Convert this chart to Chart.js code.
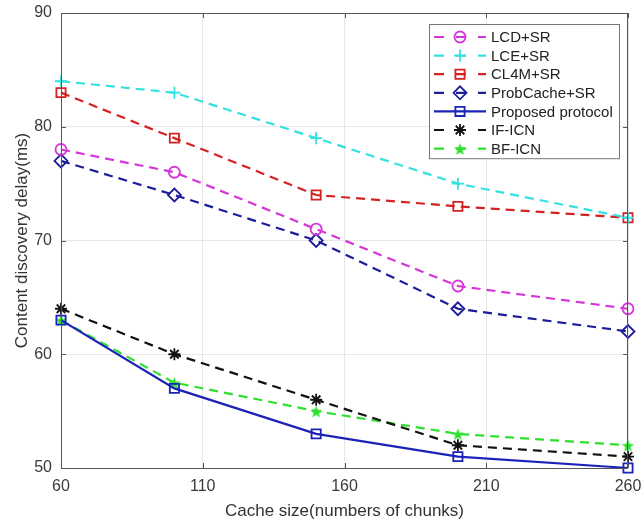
<!DOCTYPE html>
<html>
<head>
<meta charset="utf-8">
<script src="https://cdn.jsdelivr.net/npm/chart.js@4.4.0/dist/chart.umd.min.js"></script>
<style>
    html, body { margin: 0; padding: 0; background: #fff; }
</style>
</head>
<body>
<canvas id="delayChart" width="641" height="524"></canvas>
<script>
// cache size (numbers of chunks)
const cacheSizes = [60, 100, 150, 200, 260];

// content discovery delay (ms)
const lcdSr = [78, 76, 71, 66, 64];
const lceSr = [84, 83, 79, 75, 72];
const cl4mSr = [83, 79, 74, 73, 72];
const probCacheSr = [77, 74, 70, 64, 62];
const proposed = [63, 57, 53, 51, 50];
const ifIcn = [64, 60, 56, 52, 51];
const bfIcn = [63, 57.5, 55, 53, 52];

const xTicks = [60, 110, 160, 210, 260];
const yTicks = [50, 60, 70, 80, 90];

function toPoints(values) {
    return values.map((v, i) => ({ x: cacheSizes[i], y: v }));
}

// filled five point star (matlab pentagram)
function makePentagram(color, size) {
    const c = document.createElement('canvas');
    c.width = size;
    c.height = size;
    const g = c.getContext('2d');
    const r = size / 2 - 1, ri = r * 0.42;
    g.beginPath();
    for (let i = 0; i < 10; i++) {
        const a = -Math.PI / 2 + i * Math.PI / 5;
        const rr = i % 2 === 0 ? r : ri;
        g.lineTo(size / 2 + rr * Math.cos(a), size / 2 + 1 + rr * Math.sin(a));
    }
    g.closePath();
    g.fillStyle = color;
    g.fill();
    return c;
}

const greenStar = makePentagram('#2ee02e', 15);

function series(label, values, color, style, radius, dashed, fill) {
    return {
        label: label,
        data: toPoints(values),
        borderColor: color,
        backgroundColor: color,
        pointBackgroundColor: fill || 'rgba(0,0,0,0)',
        pointBorderColor: color,
        pointStyle: style,
        pointRadius: radius,
        pointHoverRadius: radius,
        pointBorderWidth: 1.8,
        borderWidth: 2.2,
        borderDash: dashed ? [9, 6] : [],
        tension: 0,
        clip: false
    };
}

const datasets = [
    series('LCD+SR', lcdSr, '#d535d8', 'circle', 5.5, true),
    series('LCE+SR', lceSr, '#35e0e0', 'cross', 6, true),
    series('CL4M+SR', cl4mSr, '#d42222', 'rect', 6.5, true),
    series('ProbCache+SR', probCacheSr, '#1c1c9c', 'rectRot', 6.5, true),
    series('Proposed protocol', proposed, '#1c22b8', 'rect', 6.5, false),
    series('IF-ICN', ifIcn, '#111111', 'star', 6, true),
    series('BF-ICN', bfIcn, '#2ee02e', greenStar, 7, true)
];

// box round the plot area, with inside ticks like matlab
const framePlugin = {
    id: 'frame',
    afterDatasetsDraw(chart) {
        const { ctx, chartArea: a, scales } = chart;
        ctx.save();
        ctx.strokeStyle = '#555';
        ctx.lineWidth = 1;
        ctx.strokeRect(a.left + 0.5, a.top + 0.5, a.right - a.left - 1, a.bottom - a.top);
        ctx.beginPath();
        yTicks.forEach(t => {
            const y = Math.round(scales.y.getPixelForValue(t)) + 0.5;
            ctx.moveTo(a.right - 5, y); ctx.lineTo(a.right, y);
            ctx.moveTo(a.left, y); ctx.lineTo(a.left + 5, y);
        });
        xTicks.forEach(t => {
            const x = Math.round(scales.x.getPixelForValue(t)) + 0.5;
            ctx.moveTo(x, a.top); ctx.lineTo(x, a.top + 5);
            ctx.moveTo(x, a.bottom); ctx.lineTo(x, a.bottom - 5);
        });
        ctx.stroke();
        ctx.restore();
    }
};

// legend drawn inside the plot, top right corner
const legendPlugin = {
    id: 'insideLegend',
    afterDraw(chart) {
        const { ctx, chartArea: a } = chart;
        const boxW = 190, rowH = 18.6;
        const boxH = chart.data.datasets.length * rowH + 4;
        const left = a.right - 9 - boxW, top = a.top + 11;
        ctx.save();
        ctx.fillStyle = '#fff';
        ctx.fillRect(left, top, boxW, boxH);
        ctx.strokeStyle = '#777';
        ctx.lineWidth = 1;
        ctx.strokeRect(left + 0.5, top + 0.5, boxW, boxH);
        ctx.font = '15px "Liberation Sans", Arial, sans-serif';
        ctx.textBaseline = 'middle';
        chart.data.datasets.forEach((ds, i) => {
            const y = top + 13 + i * rowH;
            ctx.strokeStyle = ds.borderColor;
            ctx.lineWidth = ds.borderWidth;
            ctx.setLineDash(ds.borderDash.length ? [10, 12] : []);
            ctx.beginPath();
            ctx.moveTo(left + 5, y);
            ctx.lineTo(left + 57, y);
            ctx.stroke();
            ctx.setLineDash([]);
            ctx.fillStyle = ds.pointBackgroundColor;
            ctx.lineWidth = ds.pointBorderWidth;
            Chart.helpers.drawPoint(ctx, {
                pointStyle: ds.pointStyle,
                rotation: 0,
                radius: ds.pointRadius,
                borderWidth: ds.pointBorderWidth
            }, left + 31, y);
            ctx.fillStyle = '#222';
            ctx.fillText(ds.label, left + 62, y + 1);
        });
        ctx.restore();
    }
};

const ctx = document.getElementById('delayChart').getContext('2d');
const delayChart = new Chart(ctx, {
    type: 'line',
    data: { datasets: datasets },
    options: {
        responsive: false,
        animation: false,
        layout: { padding: { top: 13, right: 13, left: 0, bottom: 0 } },
        plugins: {
            legend: { display: false },
            tooltip: { enabled: false }
        },
        scales: {
            x: {
                type: 'linear',
                min: 60,
                max: 260,
                afterBuildTicks: scale => { scale.ticks = xTicks.map(v => ({ value: v })); },
                afterFit: scale => {
                    scale.height = 56;
                    scale.paddingLeft = 0;
                    scale.paddingRight = 0;
                },
                ticks: {
                    padding: 9,
                    color: '#3a3a3a',
                    font: { family: '"Liberation Sans", Arial, sans-serif', size: 16 }
                },
                grid: { color: '#e6e6e6', drawTicks: false },
                border: { display: false },
                title: {
                    display: true,
                    text: 'Cache size(numbers of chunks)',
                    color: '#333',
                    padding: { top: 0, bottom: 2 },
                    font: { family: '"Liberation Sans", Arial, sans-serif', size: 17 }
                }
            },
            y: {
                min: 50,
                max: 90,
                afterBuildTicks: scale => { scale.ticks = yTicks.map(v => ({ value: v })); },
                afterFit: scale => {
                    scale.width = 61;
                    scale.paddingTop = 0;
                    scale.paddingBottom = 0;
                },
                ticks: {
                    padding: 9,
                    color: '#3a3a3a',
                    font: { family: '"Liberation Sans", Arial, sans-serif', size: 16 }
                },
                grid: { color: '#e6e6e6', drawTicks: false },
                border: { display: false },
                title: {
                    display: true,
                    text: 'Content discovery delay(ms)',
                    color: '#333',
                    padding: { top: 12, bottom: 0 },
                    font: { family: '"Liberation Sans", Arial, sans-serif', size: 17 }
                }
            }
        }
    },
    plugins: [framePlugin, legendPlugin]
});
</script>
</body>
</html>
